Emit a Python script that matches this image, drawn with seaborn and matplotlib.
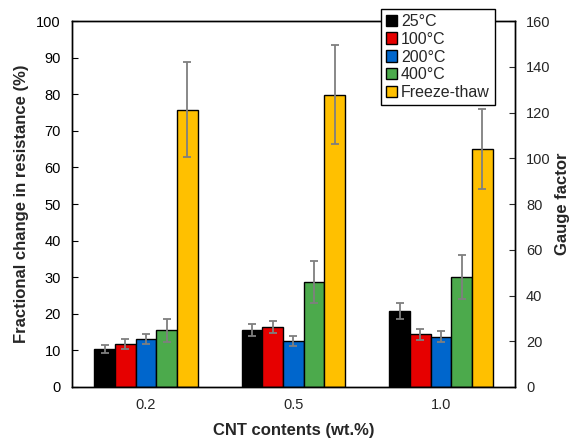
import matplotlib
matplotlib.use("Agg")
import matplotlib.pyplot as plt
import seaborn as sns
import pandas as pd
import numpy as np

categories = ["0.2", "0.5", "1.0"]
conditions = ["25°C", "100°C", "200°C", "400°C", "Freeze-thaw"]
val_25 = [10.5, 15.5, 20.8]
val_100 = [11.7, 16.3, 14.4]
val_200 = [13.1, 12.5, 13.7]
val_400 = [15.5, 28.7, 30.1]
val_ft = [75.8, 79.9, 65.0]
err_25 = [1.1, 1.7, 2.2]
err_100 = [1.3, 1.6, 1.5]
err_200 = [1.4, 1.4, 1.5]
err_400 = [3.1, 5.8, 6.1]
err_ft = [13.0, 13.6, 11.0]
colors = ["#000000", "#e60000", "#0066cc", "#4caa4c", "#ffc000"]

values = [val_25, val_100, val_200, val_400, val_ft]
errors = [err_25, err_100, err_200, err_400, err_ft]

rows = []
for cond, vals in zip(conditions, values):
    for cat, v in zip(categories, vals):
        rows.append({"CNT": cat, "cond": cond, "value": v})
df = pd.DataFrame(rows)

sns.set_style("white")
plt.rcParams["font.family"] = ["Liberation Sans", "DejaVu Sans"]

fig = plt.figure(figsize=(5.72, 4.40), dpi=100)
ax = fig.add_axes([0.126, 0.1205, 0.774, 0.8315])

sns.barplot(data=df, x="CNT", y="value", hue="cond", order=categories,
            hue_order=conditions, palette=colors, width=0.7,
            edgecolor="black", linewidth=1.0, errorbar=None, ax=ax,
            legend=False, saturation=1)

for cont, errs in zip(ax.containers, errors):
    xs = [p.get_x() + p.get_width() / 2 for p in cont.patches]
    ys = [p.get_height() for p in cont.patches]
    ax.errorbar(xs, ys, yerr=errs, fmt="none", ecolor="#7f7f7f",
                elinewidth=1.3, capsize=3, capthick=1.3, zorder=5)

ax.set_xlim(-0.5, 2.5)
ax.set_ylim(0, 100)
ax.set_yticks(np.arange(0, 101, 10))
ax.set_xlabel("CNT contents (wt.%)", fontsize=12, fontweight="bold", labelpad=8)
ax.set_ylabel("Fractional change in resistance (%)", fontsize=12,
              fontweight="bold", labelpad=5)
ax.tick_params(axis="y", direction="in", length=4, width=0.8, labelsize=10.5,
               left=True, pad=8, colors="black")
ax.tick_params(axis="x", length=0, labelsize=10.5, pad=8)
for s in ax.spines.values():
    s.set_color("black")
    s.set_linewidth(1.0)

ax2 = ax.twinx()
ax2.set_ylim(0, 160)
ax2.set_yticks(np.arange(0, 161, 20))
ax2.set_ylabel("Gauge factor", fontsize=12, fontweight="bold", labelpad=3)
ax2.tick_params(axis="y", direction="in", length=4, width=0.8, labelsize=10.5,
                right=True, pad=8)
ax2.grid(False)
for s in ax2.spines.values():
    s.set_color("black")
    s.set_linewidth(1.0)

from matplotlib.patches import Patch
handles = [Patch(facecolor=c, edgecolor="black", linewidth=1.0) for c in colors]
leg = fig.legend(handles, conditions, loc="upper left",
                 bbox_to_anchor=(381 / 572, 1 - 9 / 440), fontsize=11.5,
                 frameon=True, fancybox=False, framealpha=1,
                 edgecolor="black", handlelength=0.7, handleheight=0.7,
                 handletextpad=0.25, labelspacing=0.18, borderpad=0.3,
                 borderaxespad=0)
leg.get_frame().set_linewidth(1.0)
leg.set_zorder(10)

fig.savefig("out.png", dpi=100)
